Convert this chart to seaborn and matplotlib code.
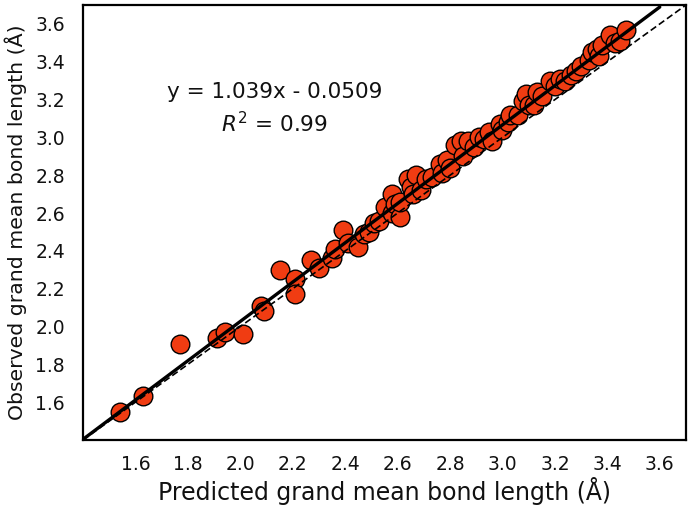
import numpy as np
import pandas as pd
import seaborn as sns
import matplotlib.pyplot as plt

# predicted vs observed grand mean bond length (Å)
predicted = [1.54, 1.63, 1.77, 1.91, 1.94, 2.01, 2.08, 2.09, 2.15, 2.21,
             2.21, 2.27, 2.30, 2.35, 2.36, 2.39, 2.41, 2.45, 2.47, 2.49,
             2.51, 2.53, 2.55, 2.58, 2.58, 2.59, 2.61, 2.61, 2.64, 2.65,
             2.66, 2.67, 2.69, 2.71, 2.73, 2.76, 2.77, 2.79, 2.80, 2.82,
             2.84, 2.85, 2.87, 2.89, 2.91, 2.93, 2.95, 2.96, 2.99, 3.00,
             3.02, 3.03, 3.06, 3.08, 3.09, 3.10, 3.12, 3.13, 3.15, 3.18,
             3.20, 3.22, 3.24, 3.26, 3.28, 3.30, 3.33, 3.34, 3.36, 3.37,
             3.38, 3.41, 3.43, 3.45, 3.47]
observed = [1.55, 1.63, 1.91, 1.94, 1.97, 1.96, 2.11, 2.08, 2.30, 2.25,
            2.17, 2.35, 2.31, 2.36, 2.41, 2.51, 2.44, 2.42, 2.49, 2.50,
            2.55, 2.56, 2.63, 2.60, 2.70, 2.65, 2.58, 2.66, 2.78, 2.74,
            2.70, 2.80, 2.72, 2.78, 2.79, 2.86, 2.81, 2.88, 2.84, 2.96,
            2.98, 2.90, 2.98, 2.95, 3.00, 2.99, 3.03, 2.98, 3.07, 3.04,
            3.08, 3.12, 3.12, 3.19, 3.23, 3.17, 3.17, 3.24, 3.22, 3.30,
            3.27, 3.31, 3.30, 3.33, 3.35, 3.38, 3.41, 3.45, 3.47, 3.43,
            3.49, 3.54, 3.50, 3.51, 3.57]

slope = 1.039
intercept = -0.0509
fit_range = [1.4, 3.6]
ident_range = [1.4, 3.7]

ticks = [1.6, 1.8, 2.0, 2.2, 2.4, 2.6, 2.8, 3.0, 3.2, 3.4, 3.6]

df = pd.DataFrame({'predicted': predicted, 'observed': observed})
fit = pd.DataFrame({'x': fit_range,
                    'y': [slope * v + intercept for v in fit_range]})

sns.set_theme(style='white')
plt.rcParams['font.family'] = ['DejaVu Sans']

fig = plt.figure(figsize=(6.92, 5.18), dpi=100)
ax = fig.add_axes([0.12, 0.1506, 0.8713, 0.8397])

sns.scatterplot(data=df, x='predicted', y='observed', ax=ax,
                s=180, color='#f03c12', edgecolor='black', linewidth=1.0,
                zorder=2)

ax.plot(ident_range, ident_range, color='black', lw=1.2,
        dashes=(4, 2), zorder=3)
sns.lineplot(data=fit, x='x', y='y', ax=ax, color='black', lw=2.4,
             zorder=4)

ax.set_xlim(1.4, 3.7)
ax.set_ylim(1.4, 3.7)
ax.set_xticks(ticks)
ax.set_yticks(ticks)
ax.set_xticklabels([f'{t:.1f}' for t in ticks])
ax.set_yticklabels([f'{t:.1f}' for t in ticks])

ax.tick_params(direction='in', length=6, width=1.5, colors='#111111',
               labelsize=13.5, pad=11)
ax.tick_params(axis='y', pad=13)
for sp in ax.spines.values():
    sp.set_linewidth(1.6)
    sp.set_color('black')

ax.set_xlabel('Predicted grand mean bond length (Å)', fontsize=17,
              labelpad=2, color='#111111')
ax.set_ylabel('Observed grand mean bond length (Å)', fontsize=14.7,
              labelpad=6, color='#111111')

ax.text(2.13, 3.242, 'y = 1.039x - 0.0509', fontsize=15.5, ha='center',
        va='center', color='#111111')
ax.text(2.13, 3.074, r'$R^2$ = 0.99', fontsize=15.5, ha='center',
        va='center', color='#111111')

fig.savefig('out.png', dpi=100)
